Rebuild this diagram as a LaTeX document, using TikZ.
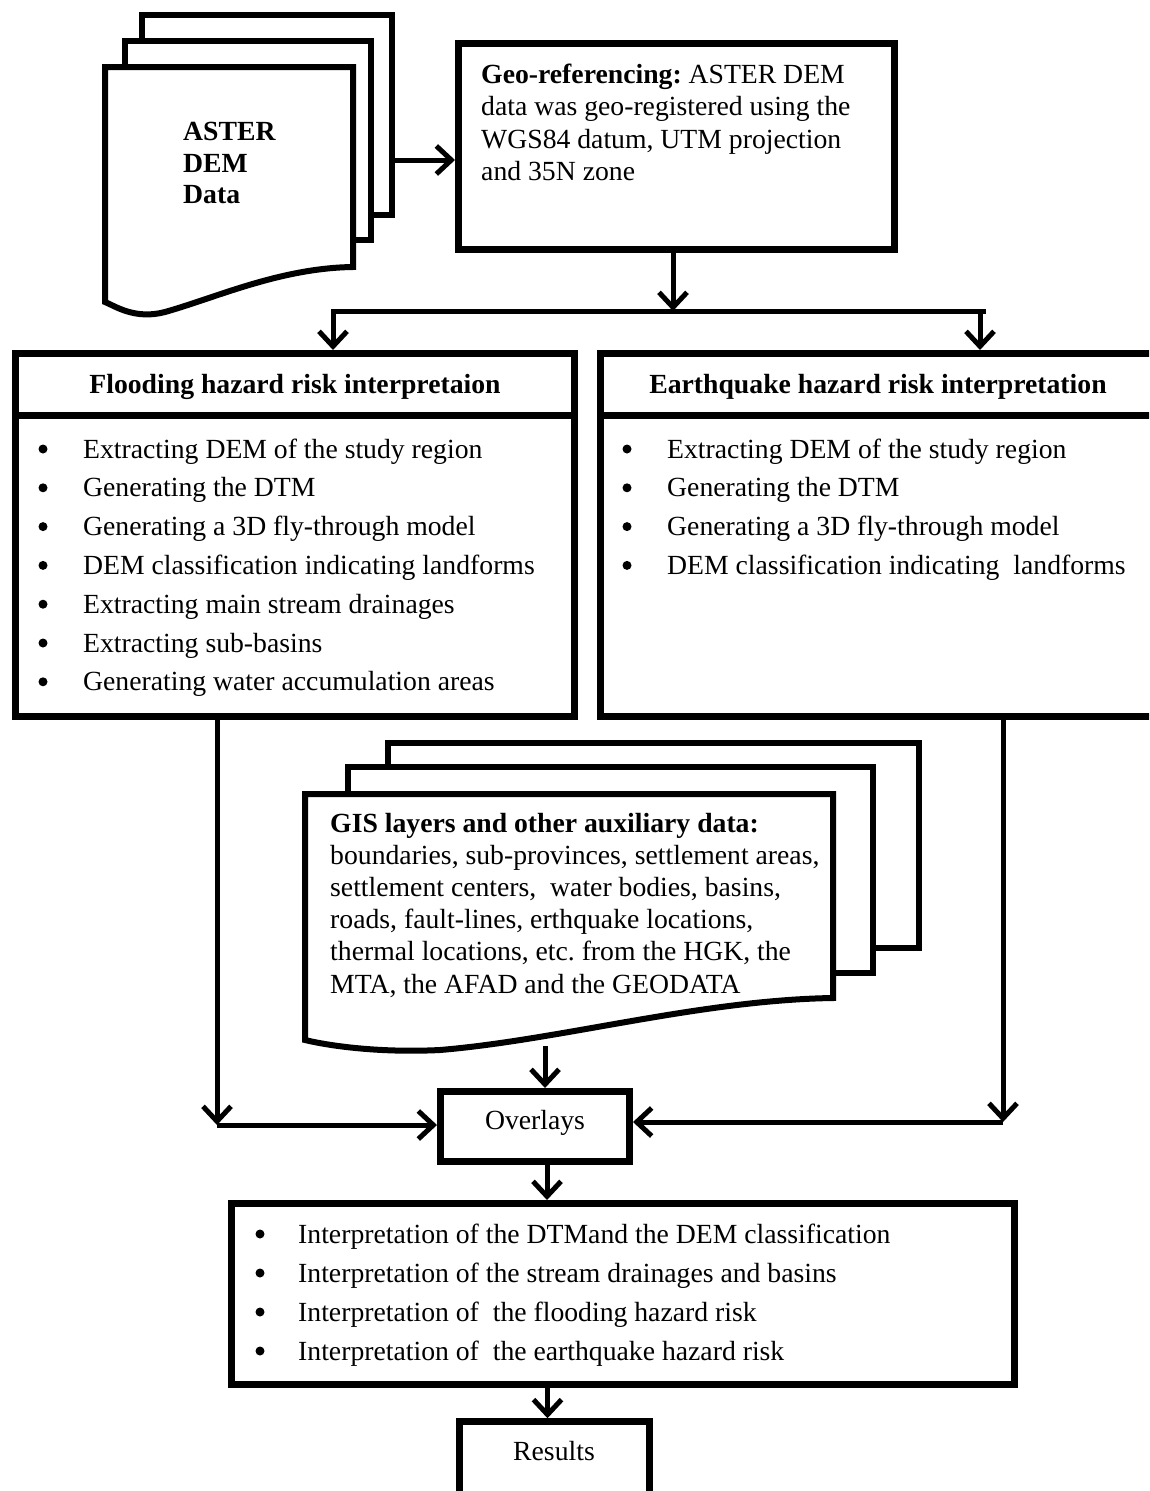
\documentclass[tikz,border=0pt]{standalone}
\usepackage{fontspec}
\setmainfont{Liberation Serif}
\usetikzlibrary{arrows.meta}
\frenchspacing
\begin{document}
\begin{tikzpicture}[x=1pt,y=-1pt,
  box/.style={draw,line width=7pt,rectangle,inner sep=0pt,fill=white},
  sheet/.style={draw,line width=6pt,fill=white,line join=miter},
  ln/.style={line width=5pt},
  arr/.style={line width=5pt,-{Straight Barb[length=15pt,width=28pt,line width=5pt]}},
  txt/.style={inner sep=0pt,anchor=base west,font=\fontsize{27.7}{32}\selectfont},
  ctxt/.style={inner sep=0pt,anchor=base,font=\fontsize{27.7}{32}\selectfont},
  btxt/.style={inner sep=0pt,anchor=base,font=\fontsize{27.7}{32}\selectfont\bfseries},
  bul/.style={circle,fill=black,inner sep=0pt,minimum size=9pt}
]
\useasboundingbox (0,0) rectangle (1149,1491);
\clip (0,0) rectangle (1149,1491);
\fill[white] (0,0) rectangle (1149,1491);

% ---------- ASTER DEM data stack ----------
\draw[sheet] (142,15) rectangle (392,215);
\draw[sheet] (125,41) rectangle (371,240);
\draw[sheet] (105,67) -- (353,67) -- (353,267)
   .. controls (280,268) and (215,298) .. (165,312)
   .. controls (135,320) and (115,306) .. (105,302) -- cycle;
\node[txt,font=\fontsize{27.7}{32}\selectfont\bfseries] (aster1) at (183,140) {ASTER};
\node[txt,font=\fontsize{27.7}{32}\selectfont\bfseries] (aster2) at (183,172) {DEM};
\node[txt,font=\fontsize{27.7}{32}\selectfont\bfseries] (aster3) at (183,203) {Data};
\coordinate (asterR) at (394,160);

% ---------- Geo-referencing ----------
\node[box,minimum width=436pt,minimum height=206pt] (geo) at (676.5,146.5) {};
\node[txt] (geo1) at (481,83) {\textbf{Geo-referencing:} ASTER DEM};
\node[txt] (geo2) at (481,115.5) {data was geo-registered using the};
\node[txt] (geo3) at (481,148) {WGS84 datum, UTM projection};
\node[txt] (geo4) at (481,180.5) {and 35N zone};

\draw[arr] (asterR) -- (asterR -| geo.west);

% ---------- junction ----------
\coordinate (j) at (673,311);
\coordinate (jL) at (333,311);
\coordinate (jR) at (980,311);
\draw[arr] (geo.south -| j) -- (j);
\draw[ln] (331,311) -- (986,311);

% ---------- Flooding box ----------
\node[box,minimum width=559pt,minimum height=363pt] (flood) at (295,535) {};
\draw[line width=7pt] (flood.west |- 0,415) -- (flood.east |- 0,415);
\node[btxt] (floodT) at (295,393) {Flooding hazard risk interpretaion};
\foreach \t [count=\i] in {Extracting DEM of the study region,
  Generating the DTM,
  Generating a 3D fly-through model,
  DEM classification indicating landforms,
  Extracting main stream drainages,
  Extracting sub-basins,
  Generating water accumulation areas}{
  \node[bul] (fbul\i) at (43,{449+38.8*(\i-1)}) {};
  \node[txt] (fit\i) at (83,{458+38.8*(\i-1)}) {\t};
}

% ---------- Earthquake box ----------
\node[box,minimum width=569.5pt,minimum height=363pt] (quake) at (885.25,535) {};
\draw[line width=7pt] (quake.west |- 0,415) -- (quake.east |- 0,415);
\node[btxt] (quakeT) at (878,393) {Earthquake hazard risk interpretation};
\foreach \t [count=\i] in {Extracting DEM of the study region,
  Generating the DTM,
  Generating a 3D fly-through model,
  DEM classification indicating~ landforms}{
  \node[bul] (qbul\i) at (627,{449+38.8*(\i-1)}) {};
  \node[txt] (qit\i) at (667,{458+38.8*(\i-1)}) {\t};
}

\draw[arr] (jL) -- (jL |- flood.north);
\draw[arr] (jR) -- (jR |- quake.north);

% ---------- GIS stack ----------
\draw[sheet] (388,743) rectangle (919,948);
\draw[sheet] (348,767) rectangle (873,973);
\draw[sheet] (305,794) -- (833,794) -- (833,998)
   .. controls (700,1000) and (560,1040) .. (440,1050)
   .. controls (380,1053) and (330,1046) .. (305,1040) -- cycle;
\node[txt] (gis1) at (330,832) {\textbf{GIS layers and other auxiliary data:}};
\node[txt] (gis2) at (330,864.2) {boundaries, sub-provinces, settlement areas,};
\node[txt] (gis3) at (330,896.4) {settlement centers,~ water bodies, basins,};
\node[txt] (gis4) at (330,928.6) {roads, fault-lines, erthquake locations,};
\node[txt] (gis5) at (330,960.8) {thermal locations, etc. from the HGK, the};
\node[txt] (gis6) at (330,993) {MTA, the AFAD and the GEODATA};
\coordinate (gisB) at (545,1046);

% ---------- Overlays ----------
\node[box,minimum width=189pt,minimum height=70pt] (ov) at (535,1126.5) {};
\node[ctxt] (ovT) at (535,1129) {Overlays};

\draw[arr] (gisB) -- (gisB |- ov.north);

\coordinate (fL) at (217,1125);
\draw[arr] (flood.south -| fL) -- (fL);
\draw[arr] (fL) -- (fL -| ov.west);
\coordinate (qR) at (1003,1122);
\draw[arr] (quake.south -| qR) -- (qR);
\draw[arr] (qR) -- (qR -| ov.east);

% ---------- interpretation box ----------
\node[box,minimum width=783pt,minimum height=181pt] (big) at (623,1294) {};
\foreach \t [count=\i] in {Interpretation of the DTMand the DEM classification,
  Interpretation of the stream drainages and basins,
  Interpretation of~ the flooding hazard risk,
  Interpretation of~ the earthquake hazard risk}{
  \node[bul] (bbul\i) at (260,{1234+39*(\i-1)}) {};
  \node[txt] (bit\i) at (298,{1243+39*(\i-1)}) {\t};
}
\draw[arr] ([xshift=12pt]ov.south) -- ([xshift=12pt]ov.south |- big.north);

% ---------- Results ----------
\node[box,minimum width=190pt,minimum height=98pt] (res) at (554.5,1470.75) {};
\node[ctxt] (resT) at (554,1460) {Results};
\draw[arr] ([xshift=-7pt]res.north |- big.south) -- ([xshift=-7pt]res.north);
\end{tikzpicture}
\end{document}
